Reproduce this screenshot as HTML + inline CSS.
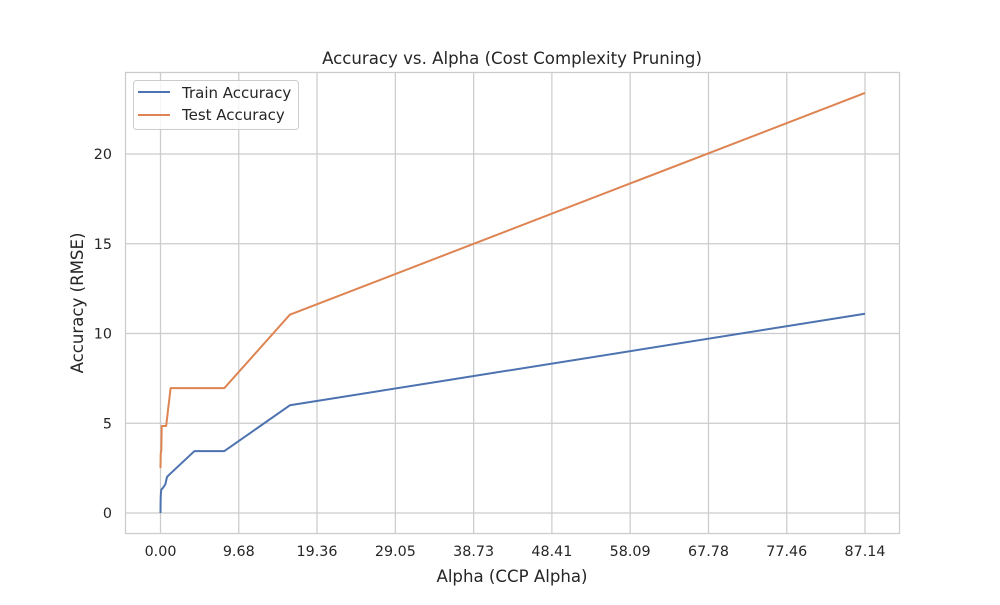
<!DOCTYPE html>
<html><head><meta charset="utf-8"><style>
body{margin:0;background:#fff;}
svg text{font-family:"DejaVu Sans","Liberation Sans",sans-serif;fill:#262626;}
</style></head><body>
<svg id="chart" width="1000" height="600">
<rect x="0" y="0" width="1000" height="600" fill="#fff"/>
<g id="grid"></g>
<rect x="125.5" y="72.5" width="774" height="461" fill="none" stroke="#cccccc" stroke-width="1.25"/>
<g id="ticks"></g>
<g id="series"></g>
<text x="512" y="64" font-size="16.6" text-anchor="middle">Accuracy vs. Alpha (Cost Complexity Pruning)</text>
<text x="512" y="582" font-size="16.6" text-anchor="middle">Alpha (CCP Alpha)</text>
<text transform="translate(83,303) rotate(-90)" font-size="16.6" text-anchor="middle">Accuracy (RMSE)</text>
<g>
<rect x="133.5" y="80.5" width="165" height="49" rx="3" fill="#fff" fill-opacity="0.8" stroke="#cccccc"/>
<line x1="138" y1="92" x2="170" y2="92" stroke="#4c72b0" stroke-width="2"/>
<text x="182" y="98" font-size="15">Train Accuracy</text>
<line x1="138" y1="115" x2="170" y2="115" stroke="#dd8452" stroke-width="2"/>
<text x="182" y="120" font-size="15">Test Accuracy</text>
</g>
</svg>
<script>
const xTicks=[0,9.68,19.36,29.05,38.73,48.41,58.09,67.78,77.46,87.14];
const xTickLabels=["0.00","9.68","19.36","29.05","38.73","48.41","58.09","67.78","77.46","87.14"];
const yTicks=[0,5,10,15,20];
const trainAlpha=[0,0.02,0.05,0.1,0.3,0.6,0.8,1.0,4.2,7.9,16.0,87.14];
const trainAcc=[0,0.8,1.1,1.3,1.4,1.6,2.0,2.1,3.45,3.45,6.0,11.1];
const testAlpha=[0,0.03,0.06,0.1,0.15,0.7,1.25,7.9,16.0,87.14];
const testAcc=[2.5,3.3,3.4,3.45,4.85,4.85,6.96,6.96,11.05,23.4];
const X=v=>160.5+v*(865-160.5)/87.14;
const Y=v=>513-v*(513-154)/20;
const NS="http://www.w3.org/2000/svg";
const grid=document.getElementById('grid'),ticks=document.getElementById('ticks'),series=document.getElementById('series');
function mk(tag,attrs,parent){const e=document.createElementNS(NS,tag);for(const k in attrs)e.setAttribute(k,attrs[k]);parent.appendChild(e);return e;}
xTicks.forEach((t,i)=>{
  const g=mk('line',{x1:X(t),x2:X(t),y1:72,y2:534,stroke:'#cccccc','stroke-width':1.25},grid);
  
  
  const tx=mk('text',{x:X(t),y:556,'font-size':14.3,'text-anchor':'middle'},ticks);
  tx.textContent=xTickLabels[i];
  
  
});
yTicks.forEach(t=>{
  const g=mk('line',{x1:125,x2:900,y1:Y(t),y2:Y(t),stroke:'#cccccc','stroke-width':1.25},grid);
  
  
  const tx=mk('text',{x:112,y:Y(t)+5,'font-size':14.3,'text-anchor':'end'},ticks);
  tx.textContent=String(t);
  
  
});
function line(xs,ys,color,name){
  const p=mk('polyline',{points:xs.map((x,i)=>X(x)+','+Y(ys[i])).join(' '),fill:'none',stroke:color,'stroke-width':2,'stroke-linejoin':'round'},series);
  
  
}
line(trainAlpha,trainAcc,'#4c72b0','train-accuracy-line');
line(testAlpha,testAcc,'#dd8452','test-accuracy-line');
</script>
</body></html>
